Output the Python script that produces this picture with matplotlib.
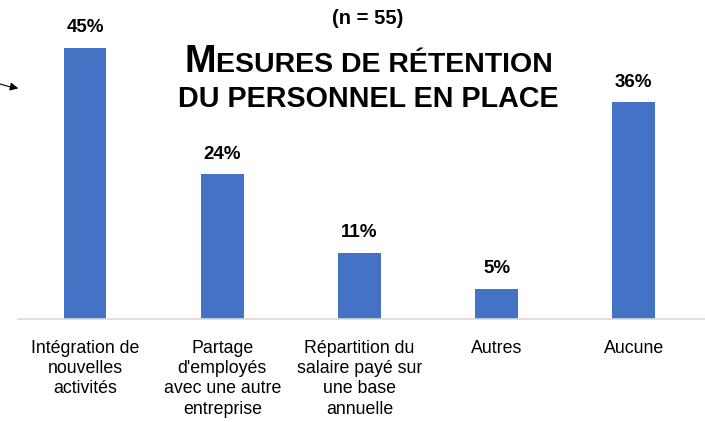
import matplotlib
matplotlib.use("Agg")
import matplotlib.pyplot as plt
from matplotlib.offsetbox import TextArea, HPacker, AnchoredOffsetbox

plt.rcParams["font.family"] = ["Liberation Sans", "DejaVu Sans"]

categories = ["Intégration de\nnouvelles\nactivités",
              "Partage\nd'employés\navec une autre\nentreprise",
              "Répartition du\nsalaire payé sur\nune base\nannuelle",
              "Autres",
              "Aucune"]
values = [45, 24, 11, 5, 36]
n_label = "(n = 55)"

fig = plt.figure(figsize=(7.05, 4.22), dpi=100)
ax = fig.add_axes([18 / 705, 1 - 319 / 422, 687 / 705, 319 / 422])

x = range(len(values))
bars = ax.bar(x, values, width=0.31, color="#4472C4", zorder=2)
for b, v in zip(bars, values):
    ax.text(b.get_x() + b.get_width() / 2, v + 3.3, f"{v}%", ha="center", va="center",
            fontsize=13.5, fontweight="bold", color="black")

ax.set_xlim(-0.49, 4.52)
ax.set_ylim(0, 52.9)
ax.set_yticks([])
ax.set_xticks(list(x))
ax.set_xticklabels(categories, fontsize=12.8, linespacing=1.25, va="top")
ax.tick_params(axis="x", length=0, pad=15)
for s in ["top", "right", "left"]:
    ax.spines[s].set_visible(False)
ax.spines["bottom"].set_color("#D9D9D9")
ax.spines["bottom"].set_linewidth(1.2)

fig.text(368 / 705, 1 - 18 / 422, n_label, ha="center", va="center",
         fontsize=14.5, fontweight="bold")

# title with small caps first line
big = TextArea("M", textprops=dict(fontsize=27.3, fontweight="bold"))
small = TextArea("ESURES DE RÉTENTION", textprops=dict(fontsize=20.5, fontweight="bold"))
line1 = HPacker(children=[big, small], align="baseline", pad=0, sep=0)
ab = AnchoredOffsetbox(loc="center", child=line1, frameon=False,
                       bbox_to_anchor=(369 / 705, 1 - 62 / 422),
                       bbox_transform=fig.transFigure, borderpad=0, pad=0)
fig.add_artist(ab)
fig.text(368 / 705, 1 - 99 / 422, "DU PERSONNEL EN PLACE", ha="center", va="center",
         fontsize=20.7, fontweight="bold")

# small arrow on the left
fig.add_artist(plt.Line2D([0, 14 / 705], [1 - 84 / 422, 1 - 88 / 422],
                          transform=fig.transFigure, color="black", lw=0.8))
ax.annotate("", xy=(21, 422 - 89), xytext=(10, 422 - 86.5), xycoords="figure pixels",
            textcoords="figure pixels",
            arrowprops=dict(arrowstyle="-|>", color="black", lw=0.8, mutation_scale=12))

fig.savefig("out.png", dpi=100)
